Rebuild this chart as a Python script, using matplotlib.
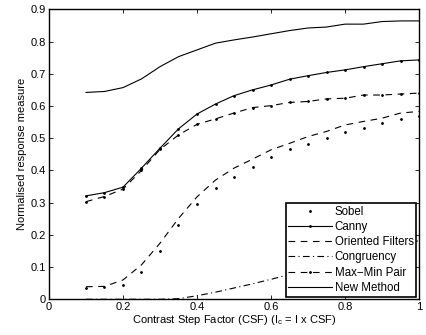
import matplotlib
matplotlib.use("Agg")
import matplotlib.pyplot as plt
import numpy as np

csf = [0.10, 0.15, 0.20, 0.25, 0.30, 0.35, 0.40, 0.45, 0.50, 0.55,
       0.60, 0.65, 0.70, 0.75, 0.80, 0.85, 0.90, 0.95, 1.00]
sobel = [0.036, 0.037, 0.044, 0.084, 0.149, 0.230, 0.296, 0.345, 0.381, 0.412,
         0.441, 0.466, 0.482, 0.500, 0.519, 0.531, 0.548, 0.559, 0.570]
canny = [0.321, 0.331, 0.348, 0.407, 0.469, 0.529, 0.575, 0.606, 0.632, 0.650,
         0.665, 0.683, 0.694, 0.704, 0.712, 0.722, 0.731, 0.740, 0.743]
oriented = [0.039, 0.040, 0.060, 0.107, 0.174, 0.251, 0.318, 0.370, 0.407, 0.435,
            0.464, 0.484, 0.505, 0.521, 0.541, 0.552, 0.562, 0.578, 0.583]
congruency = [0.0, 0.0, 0.0, 0.0, 0.0, 0.002, 0.011, 0.022, 0.035, 0.048,
              0.062, 0.077, 0.092, 0.107, 0.122, 0.137, 0.152, 0.167, 0.182]
maxmin = [0.303, 0.319, 0.342, 0.400, 0.465, 0.510, 0.543, 0.560, 0.578, 0.595,
          0.601, 0.611, 0.614, 0.622, 0.624, 0.634, 0.634, 0.637, 0.640]
newmethod = [0.642, 0.645, 0.657, 0.684, 0.722, 0.753, 0.774, 0.795, 0.805, 0.814,
             0.824, 0.834, 0.842, 0.845, 0.854, 0.854, 0.862, 0.864, 0.864]

xticks = [0, 0.2, 0.4, 0.6, 0.8, 1]
xticklabels = ["0", "0.2", "0.4", "0.6", "0.8", "1"]
yticks = [0, 0.1, 0.2, 0.3, 0.4, 0.5, 0.6, 0.7, 0.8, 0.9]
yticklabels = ["0", "0.1", "0.2", "0.3", "0.4", "0.5", "0.6", "0.7", "0.8", "0.9"]

plt.rcParams['font.family'] = ['Liberation Sans', 'DejaVu Sans']
plt.rcParams['mathtext.fontset'] = 'custom'
plt.rcParams['mathtext.rm'] = 'Liberation Sans'
plt.rcParams['mathtext.it'] = 'Liberation Sans'

fig = plt.figure(figsize=(4.26, 3.35), dpi=100)
ax = fig.add_axes([0.115, 0.1066, 0.8686, 0.8656])

lw = 0.8
ms = 2.0
ax.plot(csf, sobel, linestyle='none', marker='.', markersize=ms, color='black', label='Sobel')
ax.plot(csf, canny, '-', marker='.', markersize=ms, color='black', lw=lw, label='Canny')
ax.plot(csf, oriented, linestyle=(0, (6, 5)), color='black', lw=lw, label='Oriented Filters')
ax.plot(csf, congruency, linestyle=(0, (6, 3, 1, 3)), color='black', lw=lw, label='Congruency')
ax.plot(csf, maxmin, linestyle=(0, (6, 5)), marker='.', markersize=ms, color='black', lw=lw,
        label='Max\u2212Min Pair')
ax.plot(csf, newmethod, '-', color='black', lw=lw, label='New Method')

ax.set_xlim(0, 1)
ax.set_ylim(0, 0.9)
ax.set_xticks(xticks)
ax.set_xticklabels(xticklabels)
ax.set_yticks(yticks)
ax.set_yticklabels(yticklabels)
ax.tick_params(direction='in', top=True, right=True, labelsize=8, length=3, width=0.6, pad=2)
for s in ax.spines.values():
    s.set_linewidth(1.0)

ax.set_xlabel('Contrast Step Factor (CSF) (I$_c$ = I x CSF)', fontsize=8, labelpad=1)
ax.set_ylabel('Normalised response measure', fontsize=8, labelpad=3)

leg = ax.legend(loc='lower right', fontsize=8.3, frameon=True, fancybox=False,
                edgecolor='black', framealpha=1, handlelength=3.8, handletextpad=0.2,
                labelspacing=0.28, borderaxespad=0.22, borderpad=0.25)
leg.get_frame().set_linewidth(1.2)

fig.savefig('out.png', dpi=100)
